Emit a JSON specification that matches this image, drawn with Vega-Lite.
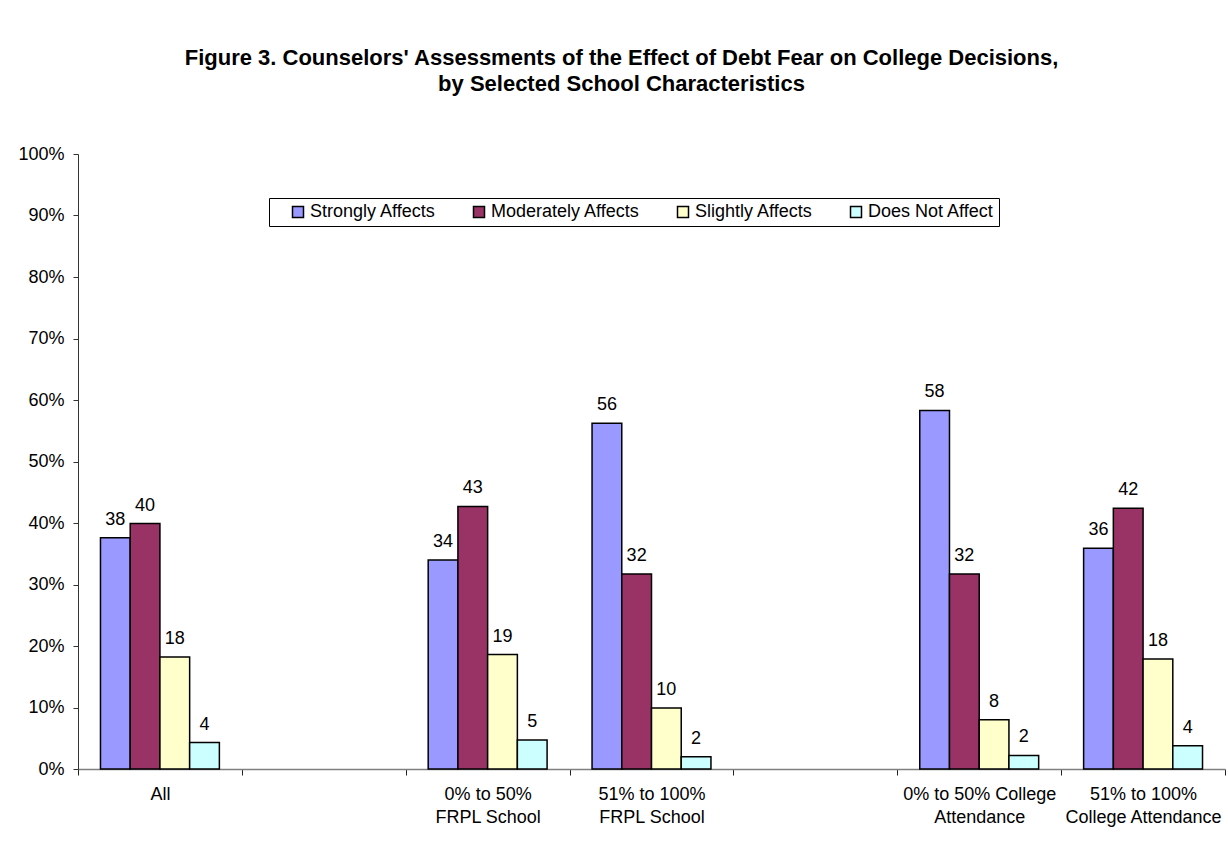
{
  "$schema": "https://vega.github.io/schema/vega-lite/v6.json",
  "width": 1147,
  "height": 615,
  "autosize": {"type": "none"},
  "padding": {"left": 78, "top": 154, "right": 3, "bottom": 72},
  "background": "white",
  "title": {
    "text": [
      "Figure 3. Counselors' Assessments of the Effect of Debt Fear on College Decisions,",
      "by Selected School Characteristics"
    ],
    "font": "Liberation Sans",
    "fontSize": 22,
    "fontWeight": "bold",
    "color": "black",
    "anchor": "middle",
    "dx": -30,
    "offset": 49,
    "lineHeight": 26
  },
  "config": {
    "font": "Liberation Sans",
    "view": {"stroke": null},
    "axis": {
      "labelFont": "Liberation Sans",
      "labelFontSize": 18,
      "labelColor": "black",
      "grid": false
    }
  },
  "data": {
    "values": [
      {"group": "All", "response": "Strongly Affects", "pct": 37.6},
      {"group": "All", "response": "Moderately Affects", "pct": 39.9},
      {"group": "All", "response": "Slightly Affects", "pct": 18.2},
      {"group": "All", "response": "Does Not Affect", "pct": 4.3},
      {"group": "0% to 50%|FRPL School", "response": "Strongly Affects", "pct": 34.0},
      {"group": "0% to 50%|FRPL School", "response": "Moderately Affects", "pct": 42.7},
      {"group": "0% to 50%|FRPL School", "response": "Slightly Affects", "pct": 18.6},
      {"group": "0% to 50%|FRPL School", "response": "Does Not Affect", "pct": 4.7},
      {"group": "51% to 100%|FRPL School", "response": "Strongly Affects", "pct": 56.2},
      {"group": "51% to 100%|FRPL School", "response": "Moderately Affects", "pct": 31.7},
      {"group": "51% to 100%|FRPL School", "response": "Slightly Affects", "pct": 9.9},
      {"group": "51% to 100%|FRPL School", "response": "Does Not Affect", "pct": 2.0},
      {"group": "0% to 50% College|Attendance", "response": "Strongly Affects", "pct": 58.3},
      {"group": "0% to 50% College|Attendance", "response": "Moderately Affects", "pct": 31.7},
      {"group": "0% to 50% College|Attendance", "response": "Slightly Affects", "pct": 8.0},
      {"group": "0% to 50% College|Attendance", "response": "Does Not Affect", "pct": 2.2},
      {"group": "51% to 100%|College Attendance", "response": "Strongly Affects", "pct": 35.9},
      {"group": "51% to 100%|College Attendance", "response": "Moderately Affects", "pct": 42.4},
      {"group": "51% to 100%|College Attendance", "response": "Slightly Affects", "pct": 17.9},
      {"group": "51% to 100%|College Attendance", "response": "Does Not Affect", "pct": 3.8}
    ]
  },
  "encoding": {
    "x": {
      "field": "group",
      "type": "nominal",
      "title": null,
      "scale": {
        "domain": [
          "All",
          " ",
          "0% to 50%|FRPL School",
          "51% to 100%|FRPL School",
          "  ",
          "0% to 50% College|Attendance",
          "51% to 100%|College Attendance"
        ],
        "paddingInner": 0,
        "paddingOuter": 0
      },
      "axis": {
        "labelAngle": 0,
        "labelExpr": "split(datum.label, '|')",
        "labelLineHeight": 23,
        "labelPadding": 10,
        "labelBaseline": "top",
        "tickBand": "extent",
        "tickSize": 6,
        "tickColor": "#222222",
        "tickWidth": 1,
        "domainColor": "#808080",
        "domainWidth": 1.5
      }
    },
    "xOffset": {
      "field": "response",
      "type": "nominal",
      "scale": {
        "domain": ["Strongly Affects", "Moderately Affects", "Slightly Affects", "Does Not Affect"],
        "paddingInner": 0,
        "paddingOuter": 0.756
      }
    },
    "y": {
      "field": "pct",
      "type": "quantitative",
      "title": null,
      "scale": {"domain": [0, 100], "nice": false},
      "axis": {
        "values": [0, 10, 20, 30, 40, 50, 60, 70, 80, 90, 100],
        "labelExpr": "datum.value + '%'",
        "tickSize": 5,
        "tickColor": "#333333",
        "domainColor": "#333333",
        "domainWidth": 1,
        "labelPadding": 9
      }
    }
  },
  "layer": [
    {
      "mark": {"type": "bar", "stroke": "black", "strokeWidth": 1.5},
      "encoding": {
        "color": {
          "field": "response",
          "type": "nominal",
          "scale": {
            "domain": ["Strongly Affects", "Moderately Affects", "Slightly Affects", "Does Not Affect"],
            "range": ["#9999FF", "#993366", "#FFFFCC", "#CCFFFF"]
          },
          "legend": {
            "title": " ",
            "titleOrient": "left",
            "titlePadding": 15,
            "titleFontSize": 18,
            "orient": "none",
            "legendX": 191,
            "legendY": 44,
            "direction": "horizontal",
            "columns": 4,
            "columnPadding": 34,
            "padding": 5,
            "strokeColor": "black",
            "fillColor": "white",
            "symbolType": "square",
            "symbolSize": 121,
            "symbolStrokeColor": "black",
            "symbolStrokeWidth": 1.5,
            "symbolOpacity": 1,
            "labelFont": "Liberation Sans",
            "labelFontSize": 18,
            "labelColor": "black",
            "labelOffset": 3,
            "labelLimit": 300
          }
        }
      }
    },
    {
      "mark": {
        "type": "text",
        "baseline": "alphabetic",
        "dy": -13,
        "fontSize": 18,
        "font": "Liberation Sans",
        "color": "black"
      },
      "encoding": {
        "text": {"field": "pct", "type": "quantitative", "format": ".0f"}
      }
    }
  ]
}
